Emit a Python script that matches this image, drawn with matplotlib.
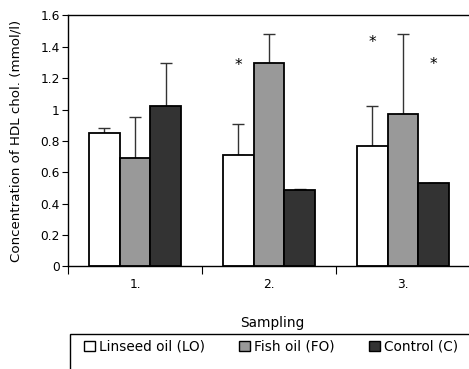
import matplotlib.pyplot as plt
import numpy as np
from matplotlib.patches import Patch, Rectangle

# Data
samplings = ['1.', '2.', '3.']
groups = ['Linseed oil (LO)', 'Fish oil (FO)', 'Control (C)']
lo_mean = [0.85, 0.71, 0.77]
lo_err = [0.03, 0.20, 0.25]
fo_mean = [0.69, 1.30, 0.97]
fo_err = [0.26, 0.18, 0.51]
c_mean = [1.02, 0.49, 0.53]
c_err = [0.28, 0.005, 0.005]
# significance stars: (sampling index, group index, y)
stars = [(1, 0, 1.28), (2, 0, 1.43), (2, 2, 1.29)]

plt.rcParams['font.family'] = 'DejaVu Sans'
plt.rcParams['font.size'] = 8.8

colors = ['white', '#999999', '#333333']

fig = plt.figure(figsize=(4.69, 3.69), dpi=100)
ax = fig.add_axes([0.145, 0.278, 0.857, 0.680])

x = np.arange(len(samplings)) + 0.5
width = 0.229
means = [lo_mean, fo_mean, c_mean]
errs = [lo_err, fo_err, c_err]

for i in range(3):
    pos = x + (i - 1) * width
    ax.errorbar(pos, means[i], yerr=[np.zeros(3), errs[i]], fmt='none',
                ecolor='#333333', elinewidth=1, capsize=4, capthick=1, zorder=1)
    ax.bar(pos, means[i], width, color=colors[i], edgecolor='black',
           linewidth=1.3, zorder=2)

for s, g, y in stars:
    ax.text(x[s] + (g - 1) * width, y, '*', ha='center', va='center',
            fontsize=11, color='black')

ax.set_xlim(0, 3)
ax.set_ylim(0, 1.6)
ax.set_yticks(np.arange(0, 1.61, 0.2))
ax.set_yticklabels(['%g' % round(v, 1) for v in np.arange(0, 1.61, 0.2)])
ax.set_xticks([0, 1, 2, 3])
ax.set_xticklabels([])
ax.set_xticks(x, minor=True)
ax.set_xticklabels(samplings, minor=True)
ax.tick_params(axis='x', which='major', length=6, width=0.8, direction='out')
ax.tick_params(axis='x', which='minor', length=0, pad=8)
ax.tick_params(axis='y', length=4, width=0.8, pad=2)
ax.spines['right'].set_visible(False)
for sp in ax.spines.values():
    sp.set_linewidth(1)

ax.set_ylabel('Concentration of HDL chol. (mmol/l)', fontsize=9.6)
ax.yaxis.set_label_coords(-0.112, 0.5)

fig.text(0.58, 0.125, 'Sampling', ha='center', va='center', fontsize=9.8)

# Legend box, running off the bottom/right of the figure
fig.patches.append(Rectangle((70 / 469, -0.05), 1.0, (369 - 334) / 369 + 0.05,
                             transform=fig.transFigure, fill=False,
                             edgecolor='black', linewidth=1))
handles = [Patch(facecolor=c, edgecolor='black', linewidth=1) for c in colors]
fig.legend(handles, groups, loc='center', bbox_to_anchor=(0.578, 0.06),
           ncol=3, frameon=False, fontsize=9.8, handlelength=0.8,
           handleheight=0.8, handletextpad=0.3, columnspacing=2.5)

fig.savefig('out.png', dpi=100)
